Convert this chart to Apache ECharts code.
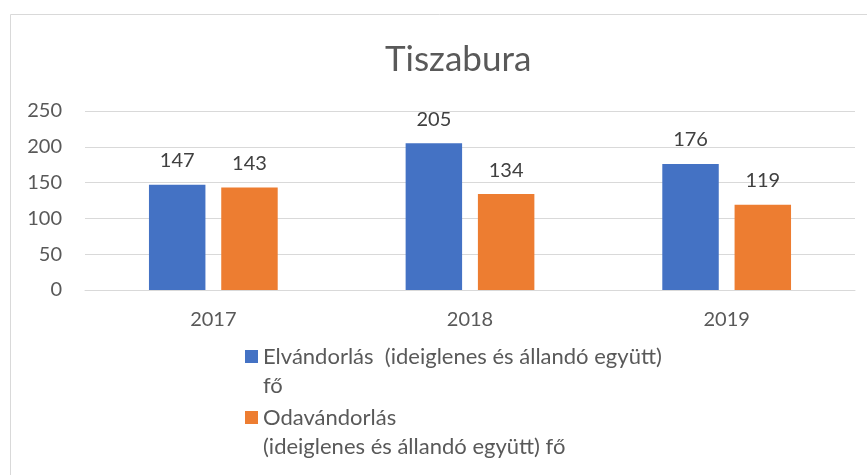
<!DOCTYPE html>
<html>
<head>
<meta charset="utf-8">
<script src="https://cdn.jsdelivr.net/npm/echarts@6/dist/echarts.min.js"></script>
<style>html,body{margin:0;padding:0;background:#fff}#c{width:867px;height:475px}</style>
</head>
<body>
<div id="c"></div>
<script>
const titleText = 'Tiszabura';
const categories = ['2017', '2018', '2019'];
const seriesNames = ['Elvándorlás  (ideiglenes és állandó együtt) fő', 'Odavándorlás (ideiglenes és állandó együtt) fő'];
const legendLines = ['Elvándorlás  (ideiglenes és állandó együtt)\nfő', 'Odavándorlás\n(ideiglenes és állandó együtt) fő'];
const elvandorlas = [147, 205, 176];
const odavandorlas = [143, 134, 119];
const yTicks = [0, 50, 100, 150, 200, 250];

const chart = echarts.init(document.getElementById('c'));
const font = 'Lato, "Open Sans", sans-serif';
const txt = '#595959';
chart.setOption({
  animation: false,
  textStyle: { fontFamily: font },
  graphic: [{
    type: 'rect', left: 8, top: 12, z: -1,
    shape: { width: 900, height: 500 },
    style: { fill: 'none', stroke: '#d9d9d9', lineWidth: 1 }
  }],
  title: {
    text: titleText, left: 380, top: 37,
    textStyle: { fontFamily: font, fontSize: 35, fontWeight: 'normal', color: txt }
  },
  grid: { left: 85, right: 12, top: 111, height: 179 },
  xAxis: {
    type: 'category', data: categories,
    axisLine: { lineStyle: { color: '#d9d9d9', width: 1 } },
    axisTick: { show: false },
    axisLabel: { color: txt, fontSize: 20, margin: 20, fontFamily: font }
  },
  yAxis: {
    type: 'value', min: yTicks[0], max: yTicks[yTicks.length - 1], interval: 50,
    axisLine: { show: false }, axisTick: { show: false },
    splitLine: { lineStyle: { color: '#d9d9d9', width: 1 } },
    axisLabel: { color: txt, fontSize: 20, margin: 23, fontFamily: font }
  },
  legend: {
    orient: 'vertical', left: 240, top: 337,
    itemWidth: 13, itemHeight: 58, itemGap: 3,
    icon: 'path://M0,0L13,0M0,8L13,8L13,21L0,21ZM0,58L13,58',
    data: seriesNames,
    formatter: function (name) { return legendLines[seriesNames.indexOf(name)]; },
    textStyle: { color: txt, fontSize: 22, lineHeight: 29, fontFamily: font }
  },
  series: [
    {
      name: seriesNames[0], type: 'bar', data: elvandorlas,
      barWidth: '22%', barGap: '28%',
      itemStyle: { color: '#4472C4' },
      label: { show: true, position: 'top', distance: 14, color: '#404040', fontSize: 20, fontFamily: font }
    },
    {
      name: seriesNames[1], type: 'bar', data: odavandorlas,
      barWidth: '22%', barGap: '28%',
      itemStyle: { color: '#ED7D31' },
      label: { show: true, position: 'top', distance: 14, color: '#404040', fontSize: 20, fontFamily: font }
    }
  ]
});
</script>
</body>
</html>
